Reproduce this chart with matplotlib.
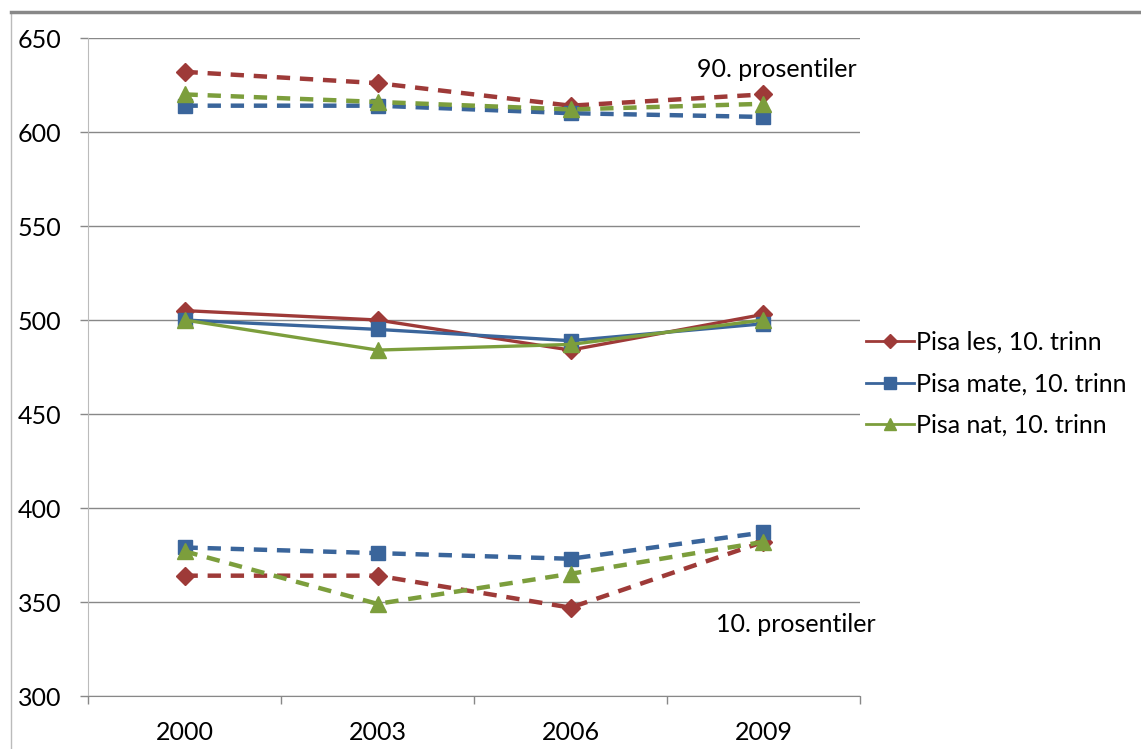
import matplotlib.pyplot as plt
from matplotlib.lines import Line2D

plt.rcParams['font.family'] = ['Lato', 'DejaVu Sans']

years = ['2000', '2003', '2006', '2009']

# mean scores
les_mean = [505, 500, 484, 503]
mate_mean = [500, 495, 489, 498]
nat_mean = [500, 484, 487, 500]

# 90th percentile
les_p90 = [632, 626, 614, 620]
mate_p90 = [614, 614, 610, 608]
nat_p90 = [620, 616, 612, 615]

# 10th percentile
les_p10 = [364, 364, 347, 382]
mate_p10 = [379, 376, 373, 387]
nat_p10 = [377, 349, 365, 382]

red = '#9E3A38'
blue = '#3A659B'
green = '#7C9E3C'

fig = plt.figure(figsize=(11.41, 7.49), dpi=100)
ax = fig.add_axes([88/1141, 53/749, 772/1141, 658/749])

x = range(len(years))

series = [
    ('Pisa les, 10. trinn', red, 'D', 9, les_mean, les_p90, les_p10),
    ('Pisa mate, 10. trinn', blue, 's', 10, mate_mean, mate_p90, mate_p10),
    ('Pisa nat, 10. trinn', green, '^', 11, nat_mean, nat_p90, nat_p10),
]

handles = []
for name, col, mk, ms, mean, p90, p10 in series:
    h, = ax.plot(x, mean, color=col, lw=2.4, marker=mk, ms=ms, label=name, zorder=3)
    handles.append(h)
    ax.plot(x, p90, color=col, lw=3.2, ls=(0, (3, 2.2)), marker=mk, ms=ms, zorder=3)
    ax.plot(x, p10, color=col, lw=3.2, ls=(0, (3, 2.2)), marker=mk, ms=ms, zorder=3)

ax.set_xlim(-0.5, 3.5)
ax.set_ylim(300, 650)
ax.set_yticks(range(300, 651, 50))
ax.set_xticks(x)
ax.set_xticklabels(years)
ax.set_xticks([-0.5, 0.5, 1.5, 2.5, 3.5], minor=True)
ax.tick_params(axis='x', which='major', length=0, labelsize=18, pad=18)
ax.tick_params(axis='x', which='minor', length=6, color='#888888', width=1)
ax.tick_params(axis='y', length=6, color='#888888', width=1, labelsize=18, pad=13)
ax.grid(axis='y', color='#888888', lw=1)
ax.set_axisbelow(True)
for s in ['top', 'right']:
    ax.spines[s].set_visible(False)
ax.spines['left'].set_color('#bbbbbb')
ax.spines['bottom'].set_color('#888888')

ax.text(2.655, 633, '90. prosentiler', fontsize=18, va='center', ha='left')
ax.text(2.755, 338, '10. prosentiler', fontsize=18, va='center', ha='left')

leg_handles = [Line2D([0], [0], color=h.get_color(), marker=h.get_marker(),
                      ms=h.get_markersize() * 0.8, lw=2) for h in handles]
fig.legend(leg_handles, [h.get_label() for h in handles],
           loc='center left', bbox_to_anchor=(866/1141, 1 - 384/749),
           frameon=False, fontsize=18, handlelength=1.9, handletextpad=0.1,
           labelspacing=0.74, borderpad=0, borderaxespad=0)

# outer frame of the pasted chart
fig.add_artist(Line2D([11/1141, 11/1141], [0, 1 - 12/749], color='#bbbbbb', lw=1))
fig.add_artist(Line2D([11/1141, 1], [1 - 12/749, 1 - 12/749], color='#888888', lw=2.5))

fig.savefig('out.png', dpi=100)
